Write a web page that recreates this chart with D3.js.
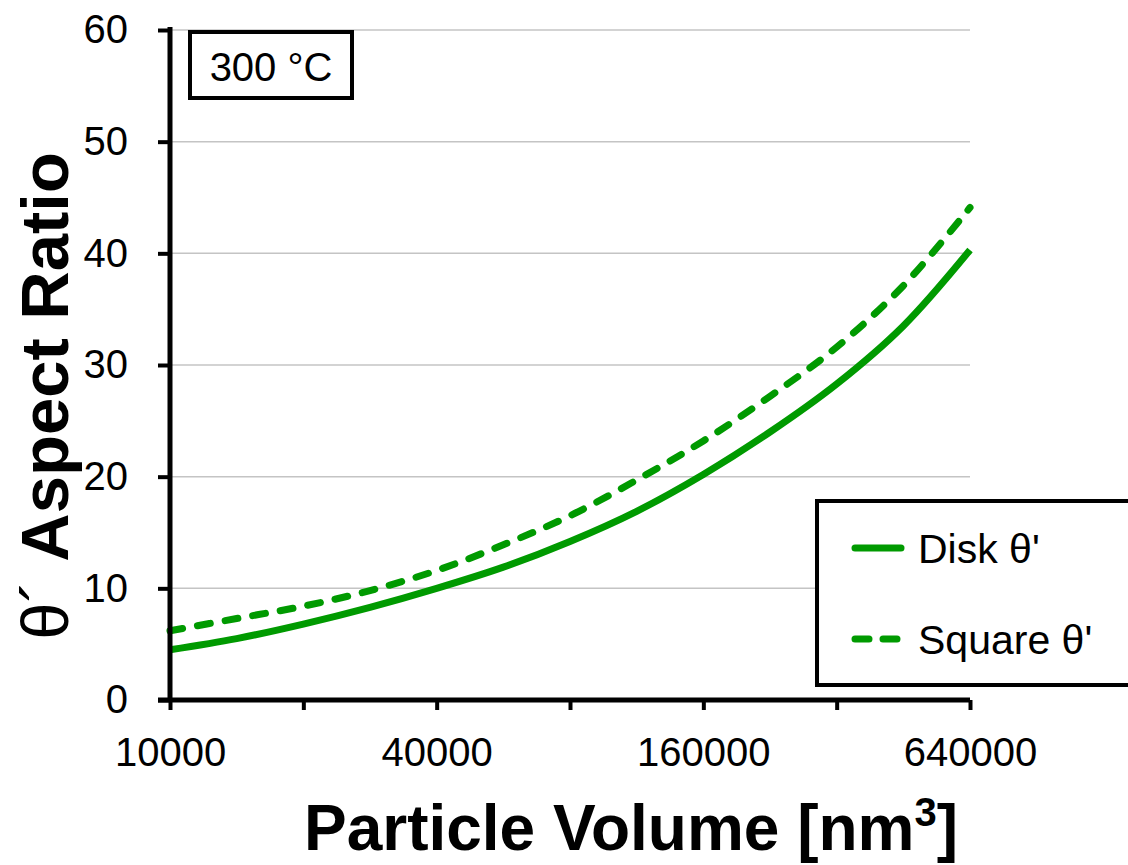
<!DOCTYPE html>
<html>
<head>
<meta charset="utf-8">
<script src="https://cdn.jsdelivr.net/npm/d3@7"></script>
<style>
  body { margin: 0; background: #fff; }
  text { font-family: "Liberation Sans", Arial, sans-serif; }
</style>
</head>
<body>
<script>
var w = 1128;
var h = 865;

// particle volume (nm^3), log2 spaced
var volumes = [10000, 14142, 20000, 28284, 40000, 56569, 80000, 113137, 160000, 226274, 320000, 452548, 640000];
var disk   = [4.5, 5.5, 6.8, 8.3, 10.0, 11.9, 14.2, 16.9, 20.2, 24.0, 28.3, 33.5, 40.3];
var square = [6.2, 7.3, 8.4, 9.8, 11.6, 13.9, 16.5, 19.7, 23.2, 27.2, 31.6, 37.1, 44.1];

var xTicks = [10000, 20000, 40000, 80000, 160000, 320000, 640000];
var xLabels = [10000, 40000, 160000, 640000];
var yTicks = [0, 10, 20, 30, 40, 50, 60];

var green = "#009a00";

var svg = d3.select("body")
            .append("svg")
            .attr("width", w)
            .attr("height", h);

var x = d3.scaleLog().base(2).domain([10000, 640000]).range([170, 970]);
var y = d3.scaleLinear().domain([0, 60]).range([700, 30]);

// gridlines
svg.selectAll("line.grid")
    .data(yTicks.slice(1))
    .enter()
    .append("line")
    .attr("class", "grid")
    .attr("x1", x(10000))
    .attr("x2", x(640000))
    .attr("y1", function(d){ return y(d); })
    .attr("y2", function(d){ return y(d); })
    .attr("stroke", "#c4c4c4")
    .attr("stroke-width", 1.5);

// lines
var line = function(vals){
    return d3.line()
        .x(function(d, i){ return x(volumes[i]); })
        .y(function(d){ return y(d); })
        .curve(d3.curveCatmullRom)(vals);
};

svg.append("path")
    .attr("d", line(square))
    .attr("fill", "none")
    .attr("stroke", green)
    .attr("stroke-width", 7)
    .attr("stroke-linecap", "round")
    .attr("stroke-dasharray", "13,15");

svg.append("path")
    .attr("d", line(disk))
    .attr("fill", "none")
    .attr("stroke", green)
    .attr("stroke-width", 7);

// axes
var xAxis = d3.axisBottom(x)
    .tickValues(xTicks)
    .tickSize(10)
    .tickPadding(28)
    .tickFormat(function(d){ return xLabels.indexOf(d) >= 0 ? d : ""; });

var yAxis = d3.axisLeft(y)
    .tickValues(yTicks)
    .tickSize(12)
    .tickPadding(30);

var gx = svg.append("g").attr("transform", "translate(0," + y(0) + ")").call(xAxis);
var gy = svg.append("g").attr("transform", "translate(" + x(10000) + ",0)").call(yAxis);

[gx, gy].forEach(function(g){
    g.select(".domain").attr("stroke", "#000").attr("stroke-width", 5);
    g.selectAll(".tick line").attr("stroke", "#000").attr("stroke-width", 4);
    g.selectAll(".tick text")
        .attr("fill", "#000")
        .style("font-size", "40px")
        .style("font-family", "'Liberation Sans', Arial, sans-serif");
});
gx.select(".domain").attr("d", "M158,0H970");
gy.select(".domain").attr("d", "M0,27V700");

// axis titles
var xt = svg.append("text")
    .attr("x", 631)
    .attr("y", 850)
    .attr("text-anchor", "middle")
    .style("font-size", "64px")
    .style("font-weight", "bold")
    .text("Particle Volume [nm");
xt.append("tspan")
    .attr("dy", -24)
    .style("font-size", "40px")
    .text("3");
xt.append("tspan")
    .attr("dy", 24)
    .text("]");

var yt = svg.append("text")
    .attr("transform", "translate(68,396) rotate(-90)")
    .attr("text-anchor", "middle")
    .style("font-size", "67px")
    .style("font-weight", "bold");
yt.append("tspan").style("font-weight", "normal").text("θ\u00B4 ");
yt.append("tspan").text("Aspect Ratio");

// temperature box
svg.append("rect")
    .attr("x", 190).attr("y", 32)
    .attr("width", 162).attr("height", 66)
    .attr("fill", "#fff")
    .attr("stroke", "#000")
    .attr("stroke-width", 4);
svg.append("text")
    .attr("x", 271).attr("y", 81)
    .attr("text-anchor", "middle")
    .style("font-size", "40px")
    .text("300 °C");

// legend
svg.append("rect")
    .attr("x", 817).attr("y", 501)
    .attr("width", 340).attr("height", 184)
    .attr("fill", "#fff")
    .attr("stroke", "#000")
    .attr("stroke-width", 4);

var legend = [
    {name: "Disk θ'", dash: null, y: 548},
    {name: "Square θ'", dash: "13,15", y: 639}
];

svg.selectAll("line.leg")
    .data(legend)
    .enter()
    .append("line")
    .attr("class", "leg")
    .attr("x1", 855).attr("x2", 901)
    .attr("y1", function(d){ return d.y; })
    .attr("y2", function(d){ return d.y; })
    .attr("stroke", green)
    .attr("stroke-width", 7)
    .attr("stroke-linecap", "round")
    .attr("stroke-dasharray", function(d){ return d.dash ? "14,14" : null; });

svg.selectAll("text.leg")
    .data(legend)
    .enter()
    .append("text")
    .attr("class", "leg")
    .attr("x", 918)
    .attr("y", function(d){ return d.y + 15; })
    .style("font-size", "41px")
    .text(function(d){ return d.name; });
</script>
</body>
</html>
